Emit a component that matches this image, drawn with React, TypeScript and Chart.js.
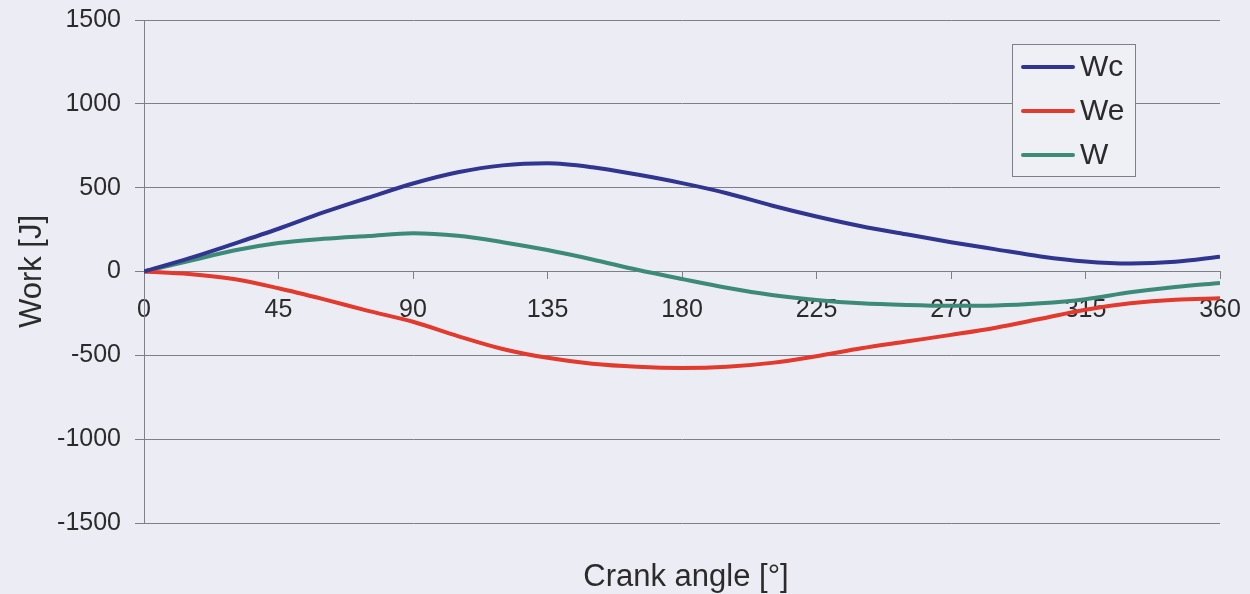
import { useEffect, useRef } from "react";
import { Chart, registerables } from "chart.js";

Chart.register(...registerables);

const angles = [0, 15, 30, 45, 60, 75, 90, 105, 120, 135, 150, 165, 180, 195, 210, 225, 240, 255, 270, 285, 300, 315, 330, 345, 360];
const wcValues = [0, 78, 165, 255, 352, 440, 525, 592, 633, 645, 622, 578, 527, 467, 394, 328, 270, 222, 175, 132, 90, 60, 48, 58, 88];
const weValues = [0, -15, -45, -100, -165, -235, -300, -385, -462, -515, -550, -568, -575, -568, -545, -505, -458, -418, -378, -335, -282, -228, -190, -168, -160];
const wValues = [0, 62, 125, 170, 195, 212, 228, 213, 175, 128, 72, 10, -45, -97, -140, -170, -190, -200, -205, -203, -190, -165, -124, -92, -68];

const seriesNames = ["Wc", "We", "W"];
const xTickValues = [0, 45, 90, 135, 180, 225, 270, 315, 360];
const yTickValues = [-1500, -1000, -500, 0, 500, 1000, 1500];
const xTitle = "Crank angle [°]";
const yTitle = "Work [J]";

const FONT = "'Liberation Sans', Arial, sans-serif";
const TEXT = "#2b2b2b";
const GRID = "#7f7f87";
const BG = "#ececf4";

const legendPlugin = {
  id: "boxLegend",
  afterDraw(chart: any) {
    const ctx = chart.ctx;
    const area = chart.chartArea;
    ctx.save();
    // x axis title centred under the plot area
    ctx.fillStyle = TEXT;
    ctx.font = `31px ${FONT}`;
    ctx.textAlign = "center";
    ctx.textBaseline = "middle";
    ctx.fillText(xTitle, (area.left + area.right) / 2 + 4, area.bottom + 54);

    // legend box
    const x0 = 1012;
    const y0 = 44;
    const w = 123;
    const h = 132;
    ctx.fillStyle = "#efeff6";
    ctx.fillRect(x0, y0, w, h);
    ctx.strokeStyle = GRID;
    ctx.lineWidth = 1;
    ctx.strokeRect(x0 + 0.5, y0 + 0.5, w, h);
    chart.data.datasets.forEach((ds: any, i: number) => {
      const cy = y0 + 23 + i * 44;
      ctx.strokeStyle = ds.borderColor;
      ctx.lineWidth = 4;
      ctx.lineCap = "round";
      ctx.beginPath();
      ctx.moveTo(x0 + 11, cy);
      ctx.lineTo(x0 + 61, cy);
      ctx.stroke();
      ctx.fillStyle = TEXT;
      ctx.font = `30px ${FONT}`;
      ctx.textBaseline = "middle";
      ctx.textAlign = "left";
      ctx.fillText(ds.label, x0 + 68, cy + 1);
    });
    ctx.restore();
  },
};

export default function App() {
  const canvasRef = useRef<HTMLCanvasElement | null>(null);

  useEffect(() => {
    if (!canvasRef.current) return;
    const toPoints = (vals: number[]) => angles.map((a, i) => ({ x: a, y: vals[i] }));
    const colors = ["#30358f", "#e23a2d", "#3c8a78"];
    const allValues = [wcValues, weValues, wValues];
    const chart = new Chart(canvasRef.current, {
      type: "line",
      data: {
        datasets: seriesNames.map((name, i) => ({
          label: name,
          data: toPoints(allValues[i]),
          borderColor: colors[i],
          backgroundColor: colors[i],
          borderWidth: 4,
          pointRadius: 0,
          fill: false,
          cubicInterpolationMode: "monotone" as const,
        })),
      },
      options: {
        animation: false,
        responsive: true,
        maintainAspectRatio: false,
        layout: { padding: { top: 20, right: 30, bottom: 71, left: 0 } },
        plugins: {
          legend: { display: false },
          tooltip: { enabled: false },
          title: { display: false },
        },
        scales: {
          x: {
            type: "linear",
            min: 0,
            max: 360,
            position: { y: 0 } as any,
            afterBuildTicks: (scale: any) => {
              scale.ticks = xTickValues.map((v) => ({ value: v }));
            },
            afterFit: (scale: any) => {
              scale.paddingLeft = 0;
              scale.paddingRight = 0;
              scale.paddingTop = 0;
              scale.paddingBottom = 0;
            },
            grid: {
              drawOnChartArea: false,
              drawTicks: true,
              tickLength: 7,
              color: GRID,
            },
            border: { display: true, color: GRID, width: 1 },
            ticks: {
              color: TEXT,
              font: { family: FONT, size: 25 },
              padding: 17,
              maxRotation: 0,
              autoSkip: false,
              callback: (v: any) => String(v),
            },
          },
          y: {
            type: "linear",
            min: -1500,
            max: 1500,
            afterBuildTicks: (scale: any) => {
              scale.ticks = yTickValues.map((v) => ({ value: v }));
            },
            afterFit: (scale: any) => {
              scale.width = 144;
              scale.paddingTop = 0;
              scale.paddingBottom = 0;
              scale.paddingLeft = 0;
              scale.paddingRight = 0;
            },
            grid: {
              color: GRID,
              tickLength: 9,
              lineWidth: 1,
            },
            border: { display: true, color: GRID, width: 1 },
            ticks: {
              color: TEXT,
              font: { family: FONT, size: 25 },
              padding: 14,
              callback: (v: any) => String(v),
            },
            title: {
              display: true,
              text: yTitle,
              color: TEXT,
              font: { family: FONT, size: 31 },
              padding: { top: 14, bottom: 0 },
            },
          },
        },
      },
      plugins: [legendPlugin],
    });
    return () => chart.destroy();
  }, []);

  return (
    <div
      style={{
        position: "absolute",
        left: 0,
        top: 0,
        width: 1250,
        height: 594,
        background: BG,
      }}
    >
      <canvas ref={canvasRef} />
    </div>
  );
}
